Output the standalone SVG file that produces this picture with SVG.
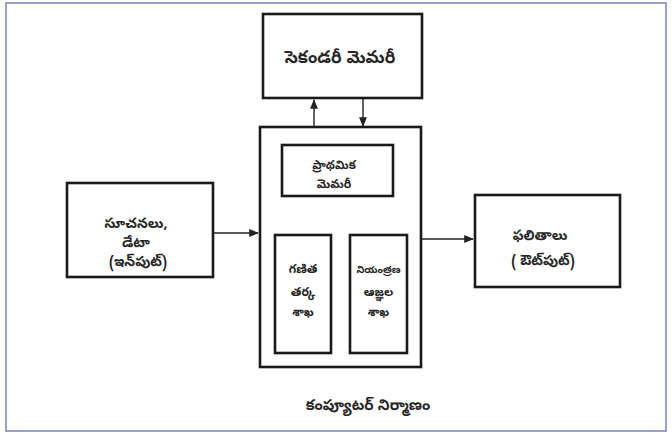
<svg xmlns="http://www.w3.org/2000/svg" width="672" height="432" viewBox="0 0 672 432">
<defs>
<style>
.box{fill:#fff;stroke:#1a1a1a;stroke-width:2.6}
.t{font-family:"Noto Sans Telugu","Noto Sans",sans-serif;font-size:17px;font-weight:bold;fill:#262626;text-anchor:middle}
.m{font-size:14px}
.s{font-size:12px}
.xs{font-size:10px}
.cap{font-size:15px}
.c{stroke:#222;stroke-width:1.4;fill:none}
</style>
<marker id="ah" viewBox="0 0 10 10" refX="9" refY="5" markerWidth="7" markerHeight="7" orient="auto-start-reverse">
<path d="M0,1 L10,5 L0,9 z" fill="#222"/>
</marker>
</defs>
<rect x="0" y="0" width="672" height="432" fill="#fff"/>
<rect x="6" y="3" width="660" height="428" fill="none" stroke="#7f7fbf" stroke-width="1.5"/>
<g id="connectors">
<line class="c" x1="314" y1="127" x2="314" y2="100" marker-end="url(#ah)"/>
<line class="c" x1="363" y1="99" x2="363" y2="126" marker-end="url(#ah)"/>
<line class="c" x1="214" y1="233" x2="258" y2="233" marker-end="url(#ah)"/>
<line class="c" x1="422" y1="239" x2="473" y2="239" marker-end="url(#ah)"/>
</g>
<g id="secondary-memory">
<rect class="box" x="263" y="14" width="159" height="84"/>
<text class="t" x="340" y="63">సెకండరీ మెమరీ</text>
</g>
<g id="computer">
<rect class="box" x="260" y="127" width="161" height="240"/>
</g>
<g id="primary-memory">
<rect class="box" x="282" y="145" width="111" height="51"/>
<text class="t s" x="334" y="169">ప్రాథమిక</text>
<text class="t s" x="334" y="188">మెమరీ</text>
</g>
<g id="alu">
<rect class="box" x="275" y="235" width="56" height="118"/>
<text class="t s" x="303" y="273">గణిత</text>
<text class="t s" x="303" y="296">తర్క</text>
<text class="t s" x="303" y="316">శాఖ</text>
</g>
<g id="control">
<rect class="box" x="350" y="235" width="57" height="118"/>
<text class="t xs" x="378.5" y="273">నియంత్రణ</text>
<text class="t s" x="378.5" y="296">ఆజ్ఞల</text>
<text class="t s" x="378.5" y="316">శాఖ</text>
</g>
<g id="input">
<rect class="box" x="67" y="183" width="146" height="94"/>
<text class="t m" x="136" y="228">సూచనలు,</text>
<text class="t m" x="136" y="247">డేటా</text>
<text class="t m" x="138" y="266">(ఇన్‌పుట్)</text>
</g>
<g id="output">
<rect class="box" x="475" y="195" width="145" height="92"/>
<text class="t m" x="540" y="240">ఫలితాలు</text>
<text class="t m" x="543" y="265">( ఔట్‌పుట్)</text>
</g>
<text class="t cap" x="368" y="410">కంప్యూటర్ నిర్మాణం</text>
</svg>
